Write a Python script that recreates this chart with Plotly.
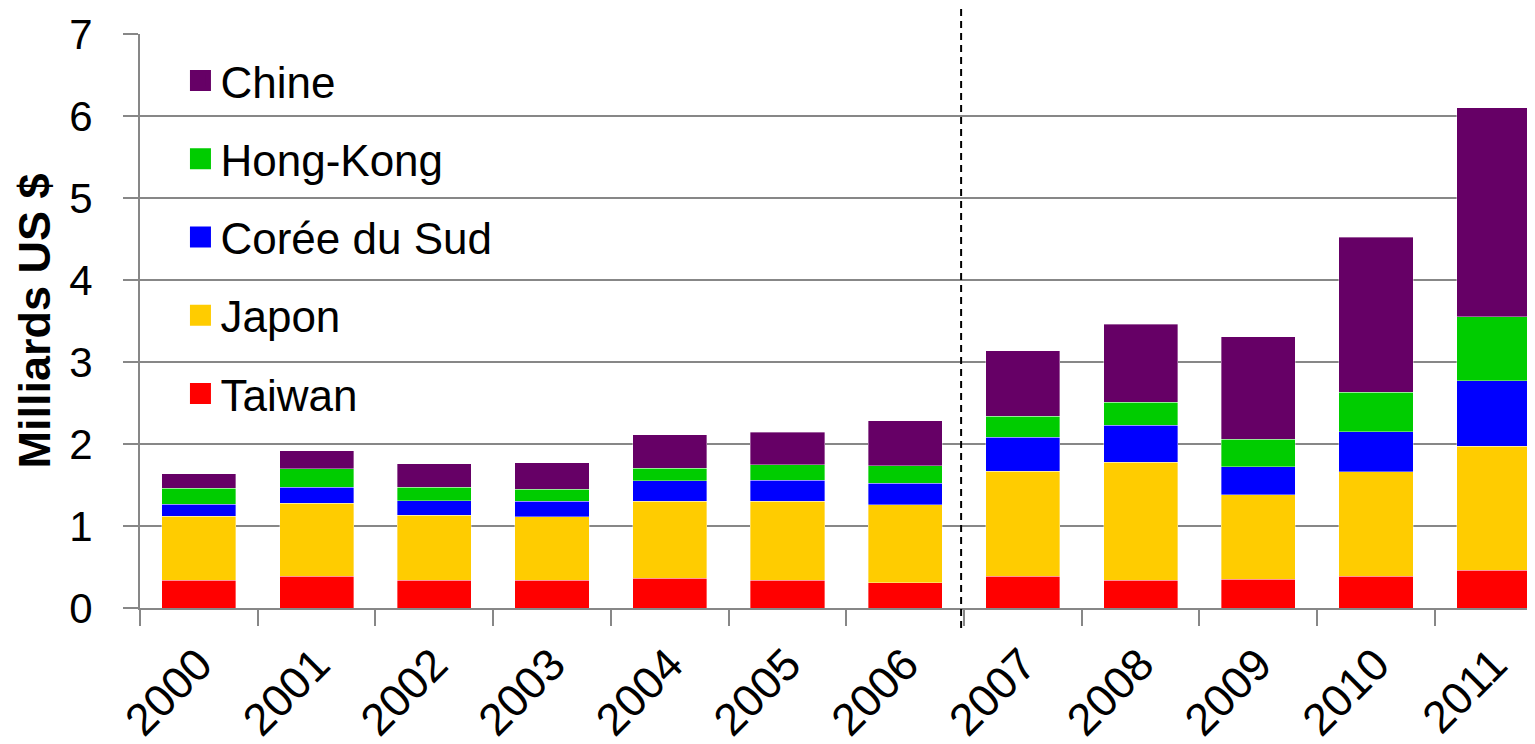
import plotly.graph_objects as go

years = ["2000", "2001", "2002", "2003", "2004", "2005",
         "2006", "2007", "2008", "2009", "2010", "2011"]

taiwan = [0.34, 0.39, 0.34, 0.34, 0.36, 0.34, 0.31, 0.39, 0.34, 0.35, 0.39, 0.46]
japon = [0.78, 0.89, 0.79, 0.77, 0.94, 0.96, 0.95, 1.28, 1.44, 1.03, 1.27, 1.51]
coree = [0.145, 0.19, 0.175, 0.19, 0.25, 0.26, 0.26, 0.41, 0.45, 0.34, 0.49, 0.80]
hongkong = [0.195, 0.23, 0.17, 0.15, 0.155, 0.185, 0.215, 0.26, 0.28, 0.34, 0.48, 0.78]
chine = [0.18, 0.22, 0.285, 0.32, 0.41, 0.40, 0.55, 0.80, 0.95, 1.25, 1.89, 2.55]

series = [
    ("Taiwan", taiwan, "#FF0000"),
    ("Japon", japon, "#FFCC00"),
    ("Corée du Sud", coree, "#0000FF"),
    ("Hong-Kong", hongkong, "#00CC00"),
    ("Chine", chine, "#660066"),
]

FONT = "Arial, 'Liberation Sans', sans-serif"
GRID = "#878787"

fig = go.Figure()
n = len(series)
for i, (name, vals, col) in enumerate(series):
    fig.add_trace(go.Bar(
        x=years, y=vals, name=name, legendgroup=f"g{i}", showlegend=False,
        legendrank=n - i,
        marker=dict(color=col, line=dict(width=0.6, color="rgba(255,255,255,0.6)")),
    ))
    fig.add_trace(go.Scatter(
        x=[None], y=[None], name=name, legendgroup=f"g{i}", mode="markers",
        legendrank=n - i,
        marker=dict(symbol="square", size=16, color=col, line=dict(width=5, color=col)),
    ))

fig.add_shape(type="line", xref="x", yref="paper", x0=6.475, x1=6.475, y0=-0.035, y1=1.05,
              line=dict(color="black", width=2, dash="7px,5px"))

# page body has an 8px margin: compensate so the chart sits like the reference
fig.update_layout(
    barmode="stack",
    bargap=0.37,
    width=1527, height=736,
    margin=dict(l=132, r=0, t=26, b=136, pad=0),
    plot_bgcolor="white", paper_bgcolor="white",
    font=dict(family=FONT, color="black"),
    showlegend=True,
    legend=dict(
        x=0.029, y=0.98, xanchor="left", yanchor="top",
        traceorder="grouped", tracegroupgap=18,
        font=dict(size=44, family=FONT, color="black"),
        bgcolor="rgba(0,0,0,0)",
    ),
    xaxis=dict(
        type="category", range=[-0.5, 11.35],
        tickson="boundaries", ticks="outside", ticklen=16, tickwidth=2, tickcolor=GRID,
        showline=True, linecolor=GRID, linewidth=2, showgrid=False,
        tickangle=-45, tickfont=dict(size=45, family=FONT, color="black"),
        ticklabelstandoff=10,
    ),
    yaxis=dict(
        range=[0, 7], dtick=1, tick0=0,
        showgrid=True, gridcolor=GRID, gridwidth=2,
        zeroline=False,
        showline=True, linecolor=GRID, linewidth=2,
        ticks="outside", ticklen=15, tickwidth=2, tickcolor=GRID,
        tickfont=dict(size=42, family=FONT, color="black"),
        ticklabelstandoff=22,
        title=dict(text="<b>Milliards US $</b>", standoff=4,
                   font=dict(size=45, family=FONT, color="black")),
    ),
)

fig.write_html("out.html")
